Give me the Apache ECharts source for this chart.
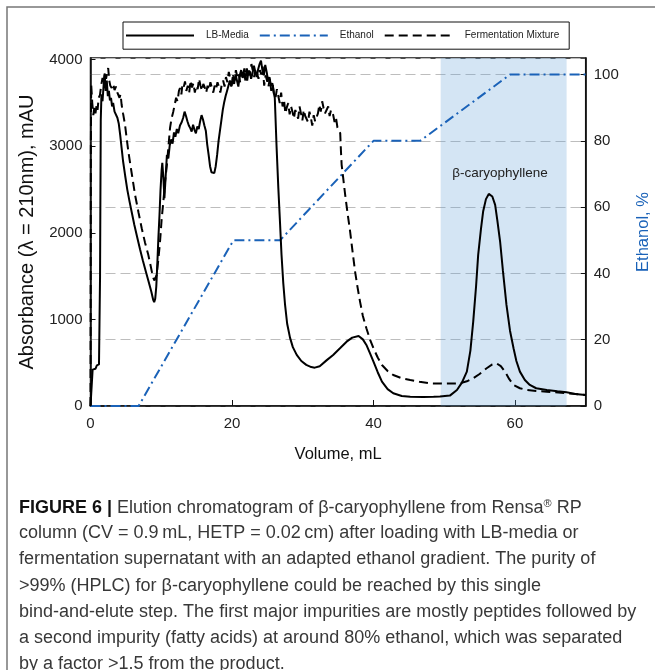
<!DOCTYPE html>
<html>
<head>
<meta charset="utf-8">
<title>Elution chromatogram</title>
<script src="https://cdn.jsdelivr.net/npm/echarts@6/dist/echarts.min.js"></script>
<style>
  html, body { margin: 0; padding: 0; background: #fff; }
  #chart { width: 655px; height: 670px; }
</style>
</head>
<body>
<div id="chart"></div>
<script>
// Volume (mL) vs absorbance (mAU)
const lbMedia = [
  [0, 0], [0.2, 0], [0.3, 420], [0.5, 440], [0.7, 430], [0.9, 470], [1.1, 450], [1.2, 480],
  [1.35, 1500], [1.45, 3300], [1.55, 3600], [1.7, 3520], [1.85, 3700], [2.0, 3830], [2.15, 3640],
  [2.3, 3760], [2.45, 3580], [2.6, 3640], [2.75, 3530], [2.9, 3560], [3.05, 3460], [3.2, 3500],
  [3.4, 3400], [3.6, 3420], [3.8, 3330], [4.0, 3260], [4.2, 3130], [4.4, 2980], [4.6, 2830],
  [4.9, 2660], [5.2, 2500], [5.5, 2370], [5.8, 2250], [6.2, 2090], [6.6, 1950], [7.0, 1810],
  [7.4, 1680], [7.8, 1560], [8.2, 1440], [8.6, 1320], [8.85, 1230], [9.0, 1200], [9.15, 1240],
  [9.3, 1380], [9.45, 1650], [9.6, 1950], [9.75, 2200], [9.9, 2500], [10.05, 2720], [10.15, 2810],
  [10.3, 2640], [10.45, 2400], [10.6, 2620], [10.8, 2900], [11.0, 2860], [11.2, 3010], [11.4, 3080],
  [11.6, 3030], [11.8, 3160], [12.0, 3110], [12.2, 3200], [12.4, 3150], [12.65, 3240], [12.9, 3280],
  [13.1, 3330], [13.3, 3400], [13.5, 3350], [13.7, 3290], [13.9, 3240], [14.1, 3210], [14.3, 3170],
  [14.5, 3250], [14.7, 3190], [14.9, 3150], [15.1, 3230], [15.3, 3200], [15.5, 3290], [15.7, 3360],
  [15.9, 3310], [16.1, 3240], [16.3, 3180], [16.5, 3020], [16.7, 2900], [16.9, 2770], [17.1, 2700],
  [17.3, 2680], [17.5, 2690], [17.7, 2770], [17.9, 2900], [18.1, 3060], [18.3, 3180], [18.5, 3300],
  [18.7, 3420], [18.9, 3510], [19.1, 3580], [19.3, 3640], [19.5, 3700], [19.7, 3760], [19.9, 3690],
  [20.1, 3800], [20.3, 3720], [20.5, 3830], [20.7, 3760], [20.9, 3690], [21.1, 3820], [21.3, 3880],
  [21.5, 3790], [21.7, 3850], [21.9, 3760], [22.1, 3900], [22.3, 3820], [22.5, 3870], [22.7, 3780],
  [22.9, 3840], [23.1, 3930], [23.3, 3860], [23.5, 3800], [23.7, 3890], [23.9, 3950], [24.1, 3990],
  [24.3, 3880], [24.5, 3820], [24.7, 3940], [24.9, 3860], [25.1, 3760], [25.3, 3800], [25.5, 3700],
  [25.7, 3730], [25.9, 3620], [26.05, 3560], [26.3, 3000], [26.55, 2520], [26.8, 2100], [27.0, 1750],
  [27.25, 1420], [27.5, 1170], [27.8, 950], [28.2, 790], [28.6, 680], [29.15, 590], [29.8, 520],
  [30.5, 475], [31.2, 450], [31.7, 443], [32.4, 460], [33.4, 530], [34.3, 590], [35.3, 670],
  [36.2, 743], [37.0, 790], [37.9, 809], [38.5, 770], [39.0, 705], [39.5, 610], [40.0, 512],
  [40.6, 390], [41.2, 281], [42.0, 195], [42.8, 147], [44.0, 115], [45.2, 108], [47.0, 105],
  [48.5, 108], [49.4, 110], [50.8, 120], [51.8, 185], [52.5, 270], [53.2, 397], [53.7, 640],
  [54.1, 975], [54.5, 1380], [54.8, 1746], [55.2, 2050], [55.5, 2246], [55.9, 2390], [56.3, 2450],
  [56.5, 2459], [56.8, 2420], [57.2, 2324], [57.5, 2150], [57.9, 1900], [58.3, 1560], [58.8, 1168],
  [59.3, 870], [59.8, 667], [60.2, 520], [60.7, 397], [61.4, 300], [62.1, 243], [63.0, 205],
  [64.5, 185], [66.0, 170], [67.3, 158], [68.5, 140], [70, 127]
];

const fermentation = [
  [0, 0], [0.05, 3000], [0.1, 3710], [0.25, 3500], [0.4, 3360], [0.55, 3450], [0.7, 3380],
  [0.87, 3480], [1.0, 3420], [1.15, 3560], [1.34, 3595], [1.5, 3700], [1.7, 3790], [1.85, 3720],
  [2.05, 3865], [2.2, 3780], [2.35, 3850], [2.5, 3904], [2.65, 3760], [2.8, 3700], [3.0, 3673],
  [3.2, 3720], [3.4, 3650], [3.6, 3690], [3.8, 3620], [3.93, 3634], [4.1, 3560], [4.25, 3600],
  [4.4, 3480], [4.6, 3380], [4.88, 3249], [5.1, 3100], [5.35, 2940], [5.8, 2700], [6.3, 2439],
  [6.8, 2230], [7.24, 2054], [7.7, 1890], [8.17, 1746], [8.5, 1620], [8.75, 1520], [8.9, 1476],
  [9.05, 1450], [9.2, 1470], [9.35, 1514], [9.6, 1700], [9.83, 1900], [10.05, 2150], [10.3, 2362],
  [10.55, 2600], [10.8, 2786], [11.0, 2980], [11.24, 3210], [11.45, 3320], [11.7, 3400], [11.9, 3480],
  [12.1, 3560], [12.3, 3520], [12.5, 3640], [12.65, 3673], [12.85, 3600], [13.0, 3720], [13.2, 3690],
  [13.36, 3749], [13.55, 3640], [13.75, 3700], [13.95, 3620], [14.15, 3760], [14.35, 3680], [14.55, 3730],
  [14.75, 3620], [14.95, 3700], [15.15, 3660], [15.35, 3780], [15.55, 3700], [15.75, 3640], [15.95, 3720],
  [16.15, 3680], [16.35, 3620], [16.55, 3700], [16.75, 3650], [16.95, 3740], [17.15, 3680], [17.35, 3620],
  [17.55, 3700], [17.75, 3660], [17.95, 3740], [18.15, 3690], [18.35, 3620], [18.55, 3710], [18.75, 3760],
  [18.95, 3690], [19.15, 3800], [19.35, 3740], [19.55, 3860], [19.75, 3780], [19.95, 3700], [20.15, 3820],
  [20.35, 3760], [20.55, 3880], [20.75, 3800], [20.95, 3840], [21.15, 3740], [21.35, 3860], [21.55, 3800],
  [21.75, 3900], [21.95, 3820], [22.15, 3760], [22.35, 3880], [22.55, 3820], [22.75, 3950], [22.95, 3870],
  [23.15, 3800], [23.35, 3900], [23.55, 3840], [23.75, 3780], [23.95, 3880], [24.15, 3830], [24.35, 3920],
  [24.55, 3700], [24.75, 3820], [24.95, 3760], [25.15, 3690], [25.35, 3780], [25.55, 3640], [25.75, 3720],
  [25.95, 3600], [26.15, 3560], [26.35, 3660], [26.55, 3580], [26.75, 3500], [26.95, 3620], [27.15, 3460],
  [27.35, 3540], [27.55, 3380], [27.75, 3450], [27.95, 3500], [28.15, 3370], [28.35, 3460], [28.55, 3400],
  [28.75, 3320], [28.95, 3420], [29.15, 3403], [29.35, 3320], [29.55, 3460], [29.75, 3380], [29.95, 3300],
  [30.15, 3420], [30.35, 3350], [30.55, 3364], [30.75, 3280], [30.95, 3400], [31.15, 3330], [31.35, 3240],
  [31.55, 3360], [31.75, 3290], [31.95, 3287], [32.15, 3380], [32.35, 3480], [32.55, 3400], [32.75, 3520],
  [32.95, 3440], [33.15, 3380], [33.4, 3403], [33.6, 3460], [33.8, 3350], [34.0, 3420], [34.3, 3364],
  [34.5, 3280], [34.7, 3330], [34.9, 3220], [35.1, 3180], [35.3, 3152], [35.4, 2950], [35.5, 2786],
  [35.7, 2650], [36.0, 2439], [36.35, 2220], [36.7, 2015], [37.05, 1780], [37.4, 1553], [37.75, 1370],
  [38.1, 1206], [38.5, 1040], [39.0, 898], [39.5, 770], [40.0, 667], [40.6, 560], [41.2, 474],
  [42.0, 405], [42.8, 358], [44.0, 320], [45.2, 300], [46.5, 280], [48.0, 262], [50.0, 258],
  [52.2, 262], [53.2, 285], [54.1, 320], [55.0, 370], [56.0, 436], [56.8, 480], [57.4, 493],
  [58.0, 460], [58.6, 397], [59.2, 310], [59.8, 243], [60.7, 205], [61.7, 185], [63.0, 172],
  [64.5, 166], [67.0, 150], [70, 127]
];

// Ethanol gradient, % (right axis)
const ethanol = [
  [0, 0], [6.8, 0], [20.2, 50], [26.8, 50], [40.0, 80], [46.6, 80], [59.3, 100], [70, 100]
];

// Product fraction window (mL)
const productWindow = [49.5, 67.3];

const captionLines = [
  '{b|FIGURE 6 |} Elution chromatogram of \u03b2-caryophyllene from Rensa{sup|\u00ae} RP',
  'column (CV = 0.9\u2009mL, HETP = 0.02\u2009cm) after loading with LB-media or',
  'fermentation supernatant with an adapted ethanol gradient. The purity of',
  '>99% (HPLC) for \u03b2-caryophyllene could be reached by this single',
  'bind-and-elute step. The first major impurities are mostly peptides followed by',
  'a second impurity (fatty acids) at around 80% ethanol, which was separated',
  'by a factor >1.5 from the product.'
];

const FONT = "'Liberation Sans', Arial, Helvetica, sans-serif";
const BLUE = '#1a62b8';

const chart = echarts.init(document.getElementById('chart'), null, { renderer: 'canvas' });

const option = {
  backgroundColor: '#fff',
  animation: false,
  textStyle: { fontFamily: FONT },
  grid: {
    left: 90.5, right: 69.3, top: 58, bottom: 264,
    outerBoundsMode: 'none',
    show: true, borderColor: '#111', borderWidth: 1.5
  },
  legend: {
    left: 123, top: 22,
    padding: [8, 10, 8, 2],
    borderColor: '#111', borderWidth: 1,
    itemWidth: 68, itemHeight: 14, itemGap: 10,
    itemStyle: { opacity: 0 },
    textStyle: { fontSize: 10, color: '#222', padding: [0, 0, 0, 7] },
    data: ['LB-Media', 'Ethanol', 'Fermentation Mixture']
  },
  xAxis: {
    type: 'value', min: 0, max: 70, interval: 20,
    name: 'Volume, mL', nameLocation: 'middle', nameGap: 40,
    nameTextStyle: { fontSize: 16.5, color: '#111' },
    axisLine: { lineStyle: { color: '#111', width: 1.5 } },
    axisTick: { inside: true, length: 6, lineStyle: { color: '#111' } },
    axisLabel: { fontSize: 15, color: '#222', margin: 10, showMaxLabel: false },
    splitLine: { show: false }
  },
  yAxis: [
    {
      type: 'value', min: 0, max: 4020, interval: 1000,
      name: 'Absorbance (\u03bb = 210nm), mAU', nameLocation: 'middle', nameGap: 53,
      nameTextStyle: { fontSize: 20, color: '#111' },
      axisLine: { show: true, lineStyle: { color: '#111', width: 1.5 } },
      axisTick: { inside: true, length: 5, lineStyle: { color: '#111' } },
      axisLabel: { fontSize: 15, color: '#222', margin: 8, showMaxLabel: false, formatter: v => String(v) },
      splitLine: { show: false }
    },
    {
      type: 'value', min: 0, max: 105, interval: 20, position: 'right',
      name: 'Ethanol, %', nameLocation: 'middle', nameGap: 49,
      nameTextStyle: { fontSize: 16.5, color: BLUE },
      axisLine: { show: true, lineStyle: { color: '#111', width: 1.5 } },
      axisTick: { inside: true, length: 5, lineStyle: { color: '#111' } },
      axisLabel: { fontSize: 15, color: '#222', margin: 8, showMaxLabel: false, formatter: v => String(v) },
      splitLine: { show: true, lineStyle: { color: '#bdbdbd', width: 1, type: [10, 5] } }
    }
  ],
  series: [
    {
      name: 'LB-Media', type: 'line', data: lbMedia, yAxisIndex: 0,
      symbol: 'none', lineStyle: { color: '#000', width: 2 }, itemStyle: { color: '#000' },
      z: 4,
      markPoint: {
        silent: true, symbol: 'rect', symbolSize: 1,
        itemStyle: { color: 'transparent' },
        label: { show: true, position: 'inside', fontSize: 13.5, color: '#222', formatter: '\u03b2-caryophyllene' },
        data: [{ coord: [57.9, 2690] }]
      }
    },
    {
      name: 'Ethanol', type: 'line', data: ethanol, yAxisIndex: 1,
      symbol: 'none', lineStyle: { color: BLUE, width: 2, type: [10, 4, 2, 4] }, itemStyle: { color: BLUE },
      z: 3,
      markArea: {
        silent: true,
        itemStyle: { color: 'rgba(100,160,215,0.28)' },
        data: [[{ xAxis: productWindow[0] }, { xAxis: productWindow[1] }]]
      }
    },
    {
      name: 'Fermentation Mixture', type: 'line', data: fermentation, yAxisIndex: 0,
      symbol: 'none', lineStyle: { color: '#000', width: 2, type: [9, 5] }, itemStyle: { color: '#000' },
      z: 4
    }
  ],
  graphic: [
    // outer frame of the figure panel (right and bottom edges fall off the page)
    {
      type: 'rect', silent: true, z: -10,
      shape: { x: 7, y: 7, width: 700, height: 700 },
      style: { fill: 'none', stroke: '#777', lineWidth: 1.5 }
    },
    ...captionLines.map((line, i) => ({
      type: 'text', left: 19, top: 498 + i * 26.2, silent: true,
      style: {
        text: line,
        font: '18px ' + FONT,
        fill: '#383838',
        rich: {
          b: { fontWeight: 'bold', fontSize: 18, fill: '#111', fontFamily: FONT },
          sup: { fontSize: 11, padding: [0, 0, 9, 0], fill: '#383838', fontFamily: FONT }
        }
      }
    }))
  ]
};

chart.setOption(option);
</script>
</body>
</html>
